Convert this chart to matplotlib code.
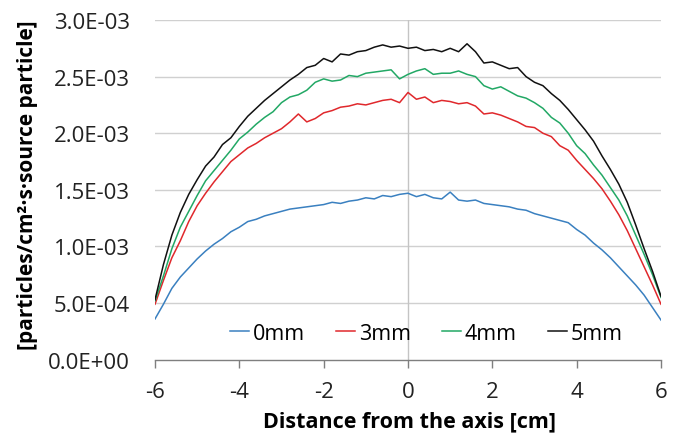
import matplotlib
matplotlib.use("Agg")
import matplotlib.pyplot as plt
import numpy as np

x_cm = [round(-6.0 + 0.2 * i, 1) for i in range(61)]

s0mm = [0.36, 0.49, 0.63, 0.73, 0.81, 0.89, 0.96, 1.02, 1.07, 1.13, 1.17, 1.22, 1.24, 1.27, 1.29, 1.31,
        1.33, 1.34, 1.35, 1.36, 1.37, 1.39, 1.38, 1.40, 1.41, 1.43, 1.42, 1.45, 1.44, 1.46, 1.47,
        1.44, 1.46, 1.43, 1.42, 1.48, 1.41, 1.40, 1.41, 1.38, 1.37, 1.36, 1.35, 1.33, 1.32, 1.29,
        1.27, 1.25, 1.23, 1.21, 1.15, 1.10, 1.03, 0.97, 0.90, 0.82, 0.74, 0.66, 0.57, 0.46, 0.35]
s3mm = [0.49, 0.70, 0.90, 1.05, 1.22, 1.36, 1.47, 1.57, 1.66, 1.75, 1.81, 1.87, 1.91, 1.96, 2.00, 2.04,
        2.10, 2.17, 2.10, 2.13, 2.18, 2.20, 2.23, 2.24, 2.26, 2.25, 2.27, 2.29, 2.30, 2.27, 2.36,
        2.30, 2.32, 2.27, 2.29, 2.28, 2.26, 2.27, 2.24, 2.17, 2.18, 2.16, 2.13, 2.10, 2.06, 2.05,
        2.00, 1.97, 1.89, 1.85, 1.76, 1.68, 1.60, 1.51, 1.40, 1.28, 1.14, 0.98, 0.82, 0.66, 0.49]
s4mm = [0.52, 0.74, 0.98, 1.17, 1.31, 1.45, 1.58, 1.67, 1.76, 1.85, 1.95, 2.01, 2.08, 2.14, 2.19, 2.27,
        2.32, 2.34, 2.38, 2.45, 2.48, 2.46, 2.47, 2.51, 2.50, 2.53, 2.54, 2.55, 2.56, 2.48, 2.52,
        2.55, 2.57, 2.52, 2.53, 2.53, 2.55, 2.52, 2.50, 2.42, 2.39, 2.41, 2.37, 2.33, 2.31, 2.27,
        2.22, 2.14, 2.09, 2.00, 1.89, 1.82, 1.72, 1.63, 1.52, 1.41, 1.27, 1.10, 0.93, 0.75, 0.55]
s5mm = [0.53, 0.84, 1.10, 1.30, 1.46, 1.59, 1.71, 1.79, 1.90, 1.96, 2.06, 2.15, 2.22, 2.29, 2.35, 2.41,
        2.47, 2.52, 2.58, 2.60, 2.66, 2.63, 2.70, 2.69, 2.72, 2.73, 2.76, 2.78, 2.76, 2.77, 2.75,
        2.76, 2.73, 2.74, 2.72, 2.75, 2.72, 2.79, 2.72, 2.62, 2.63, 2.60, 2.57, 2.58, 2.50, 2.45,
        2.42, 2.35, 2.29, 2.21, 2.12, 2.03, 1.93, 1.80, 1.68, 1.55, 1.39, 1.19, 0.98, 0.78, 0.56]

series_labels = ["0mm", "3mm", "4mm", "5mm"]
series_values = [s0mm, s3mm, s4mm, s5mm]
colors = ["#3a80c0", "#e0282c", "#22a865", "#111111"]

y_ticks = [0.0, 0.5e-3, 1.0e-3, 1.5e-3, 2.0e-3, 2.5e-3, 3.0e-3]
y_tick_labels = ["0.0E+00", "5.0E-04", "1.0E-03", "1.5E-03", "2.0E-03", "2.5E-03", "3.0E-03"]
x_ticks = [-6, -4, -2, 0, 2, 4, 6]

FONT = "Open Sans"
plt.rcParams["font.family"] = [FONT, "DejaVu Sans"]

fig = plt.figure(figsize=(6.79, 4.35), dpi=100)
ax = fig.add_axes([155 / 679, 74.3 / 435, 506 / 679, 339.7 / 435])

xs = np.array(x_cm)
for lab, vals, c in zip(series_labels, series_values, colors):
    ax.plot(xs, np.array(vals) * 1e-3, color=c, lw=1.1, label=lab, zorder=3)

ax.set_xlim(-6, 6)
ax.set_ylim(0, 3.0e-3)
ax.set_yticks(y_ticks)
ax.set_yticklabels(y_tick_labels)
ax.set_xticks(x_ticks)
ax.set_xticklabels([str(t) for t in x_ticks])

for yv in y_ticks[1:]:
    ax.axhline(yv, color="#d0d0d0", lw=1.0, zorder=1)
ax.axvline(0, color="#c4c4c4", lw=1.0, zorder=1)

for s in ["left", "right", "top"]:
    ax.spines[s].set_visible(False)
ax.spines["bottom"].set_color("#7f7f7f")
ax.spines["bottom"].set_linewidth(1.0)

ax.tick_params(axis="y", length=0, pad=18, labelsize=16, colors="#222222")
ax.tick_params(axis="x", direction="out", length=6, width=1.0, color="#7f7f7f",
               pad=9, labelsize=16, labelcolor="#222222")

ax.set_xlabel("Distance from the axis [cm]", fontsize=15.5, fontweight="bold")
ax.xaxis.set_label_coords(0.503, -0.148)
ax.set_ylabel("[particles/cm²·s·source particle]", fontsize=15, fontweight="bold")
ax.yaxis.set_label_coords(-0.231, 0.517)

leg = ax.legend(loc="center", bbox_to_anchor=(0.536, 0.078), ncol=4, frameon=False,
                fontsize=15.5, handlelength=0.9, handletextpad=0.15, columnspacing=1.45,
                borderpad=0.2)

fig.savefig("out.png", dpi=100, facecolor="white")
